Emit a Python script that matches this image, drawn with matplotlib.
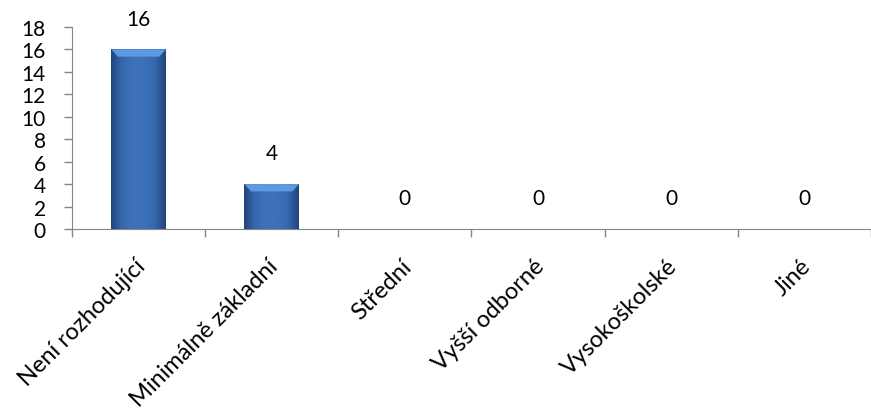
import numpy as np
import matplotlib
matplotlib.use("Agg")
import matplotlib.pyplot as plt
from matplotlib.patches import Polygon
from matplotlib.colors import LinearSegmentedColormap
from matplotlib.transforms import ScaledTranslation

categories = ["Není rozhodující", "Minimálně základní", "Střední",
              "Vyšší odborné", "Vysokoškolské", "Jiné"]
values = [16, 4, 0, 0, 0, 0]
yticks = list(range(0, 19, 2))

plt.rcParams['font.family'] = ['Lato', 'DejaVu Sans']

fig = plt.figure(figsize=(8.71, 4.10), dpi=100)
ax = fig.add_axes([0.0827, 0.439, 0.917, 0.493])

x = np.arange(len(categories))
bw = 0.41
bars = ax.bar(x, values, width=bw, color="#3E72B6", edgecolor="none", zorder=2)

cmap = LinearSegmentedColormap.from_list(
    "bev", ["#22457A", "#3568AD", "#3D72BA", "#3D72BA", "#3568AD", "#22457A"])
grad = np.linspace(0, 1, 256).reshape(1, -1)
for b in bars:
    h = b.get_height()
    if h <= 0:
        continue
    x0 = b.get_x(); w = b.get_width()
    im = ax.imshow(grad, extent=[x0, x0 + w, 0, h], aspect='auto',
                   cmap=cmap, zorder=3, interpolation='bicubic')
    im.set_clip_path(b)
    bev_h = 0.65
    bev_w = w * 0.12
    poly = Polygon([[x0, h], [x0 + w, h], [x0 + w - bev_w, h - bev_h],
                    [x0 + bev_w, h - bev_h]], closed=True,
                   facecolor="#5D9AE2", edgecolor="none", zorder=4)
    ax.add_patch(poly)

for xi, v in zip(x, values):
    ax.annotate(str(v), (xi, v), xytext=(0, 15), textcoords='offset points',
                ha='center', va='bottom', fontsize=15, color='black')

ax.set_xlim(-0.5, len(categories) - 0.5)
ax.set_ylim(0, 18)
ax.set_yticks(yticks)
ax.set_yticklabels([str(t) for t in yticks], fontsize=15)
ax.set_xticks(x)
ax.set_xticklabels(categories, rotation=45, ha='right', va='center',
                   rotation_mode='anchor', fontsize=17)
ax.tick_params(axis='x', length=0, pad=24)
shift = ScaledTranslation(3 / 100, 0, fig.dpi_scale_trans)
for lab in ax.get_xticklabels():
    lab.set_transform(lab.get_transform() + shift)
ax.set_xticks(np.arange(-0.5, len(categories), 1.0), minor=True)
ax.tick_params(axis='x', which='minor', length=6, color='#868686', width=1)
ax.tick_params(axis='y', length=6, color='#868686', width=1, pad=13)

for s in ['top', 'right']:
    ax.spines[s].set_visible(False)
ax.spines['left'].set_color('#868686')
ax.spines['bottom'].set_color('#868686')

fig.savefig("out.png", dpi=100)
